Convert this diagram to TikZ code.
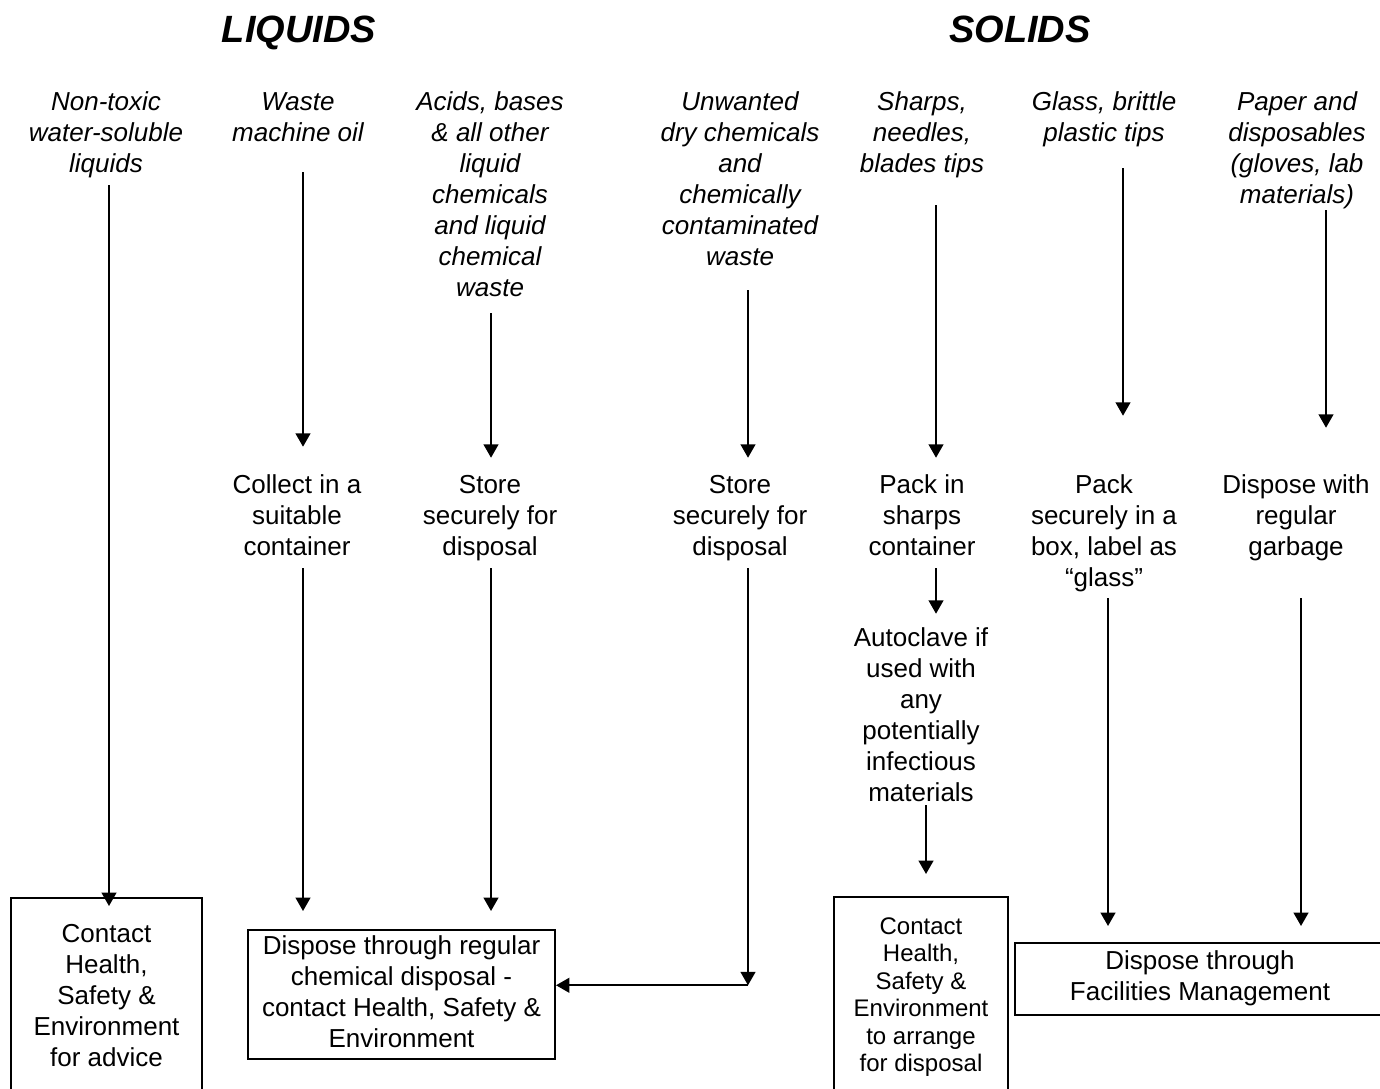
\documentclass[tikz,border=0pt]{standalone}
\usepackage{fontspec}
\setmainfont{Liberation Sans}
\usetikzlibrary{calc,arrows.meta}
\tikzset{
  tight/.style={inner sep=0pt, align=center},
  lab/.style={tight, font=\itshape\fontsize{19.5}{23.25}\selectfont},
  txt/.style={tight, font=\fontsize{19.5}{23.25}\selectfont},
  title/.style={inner sep=0pt, anchor=base, font=\bfseries\itshape\fontsize{28.5}{34}\selectfont},
  boxnode/.style={draw, line width=1.5pt, inner sep=0pt, align=center},
  arr/.style={line width=1.5pt, -{Triangle[length=10pt,width=11pt]}}
}
\begin{document}
\begin{tikzpicture}[x=0.75pt,y=-0.75pt]
\useasboundingbox (0,0) rectangle (1380,1088);
% titles
\node[title] (tl) at (299,43) {LIQUIDS};
\node[title] (ts) at (1020,43) {SOLIDS};
% top labels
\node[lab] (l1) at (106,135.1) {\strut Non-toxic\\water-soluble\\liquids\strut};
\node[lab] (l2) at (298,119.6) {\strut Waste\\machine oil\strut};
\node[lab] (l3) at (490,197.1) {\strut Acids, bases\\\& all other\\liquid\\chemicals\\and liquid\\chemical\\waste\strut};
\node[lab] (l4) at (740,181.6) {\strut Unwanted\\dry chemicals\\and\\chemically\\contaminated\\waste\strut};
\node[lab] (l5) at (922,135.1) {\strut Sharps,\\needles,\\blades tips\strut};
\node[lab] (l6) at (1104,119.6) {\strut Glass, brittle\\plastic tips\strut};
\node[lab] (l7) at (1297,150.6) {\strut Paper and\\disposables\\(gloves, lab\\materials)\strut};
% middle steps
\node[txt] (m1) at (297,518.1) {\strut Collect in a\\suitable\\container\strut};
\node[txt] (m2) at (490,518.1) {\strut Store\\securely for\\disposal\strut};
\node[txt] (m3) at (740,518.1) {\strut Store\\securely for\\disposal\strut};
\node[txt] (m4) at (922,518.1) {\strut Pack in\\sharps\\container\strut};
\node[txt] (m5) at (1104,533.6) {\strut Pack\\securely in a\\box, label as\\“glass”\strut};
\node[txt] (m6) at (1296,518.1) {\strut Dispose with\\regular\\garbage\strut};
\node[txt] (au) at (921,717.6) {\strut Autoclave if\\used with\\any\\potentially\\infectious\\materials\strut};
% boxes
\node[boxnode, font=\fontsize{19.5}{23.25}\selectfont, minimum width=143.25pt, minimum height=150pt] (bA) at (106.5,998)
  {\strut Contact\\Health,\\Safety \&\\Environment\\for advice\strut};
\node[boxnode, font=\fontsize{19.5}{23.25}\selectfont, minimum width=230.25pt, minimum height=96.75pt] (bB) at (401.5,994.5)
  {\strut Dispose through regular\\chemical disposal -\\contact Health, Safety \&\\Environment\strut};
\node[boxnode, font=\fontsize{18}{20.6}\selectfont, minimum width=130.5pt, minimum height=150.75pt] (bC) at (921,997.5)
  {\strut Contact\\Health,\\Safety \&\\Environment\\to arrange\\for disposal\strut};
\node[boxnode, font=\fontsize{19.5}{23.25}\selectfont, minimum width=277.5pt, minimum height=54pt] (bD) at (1200,979)
  {\strut Dispose through\\Facilities Management\strut};
% connectors
\draw[arr] ($(l1.south)+(3,3.4)$) -- ($(bA.north)+(2.5,9)$);
\draw[arr] ($(l2.south)+(5,21.4)$) -- ($(m1.north)+(6,-24.6)$);
\draw[arr] ($(l3.south)+(1,7.4)$) -- ($(m2.north)+(1,-13.6)$);
\draw[arr] ($(l4.south)+(8,15.4)$) -- ($(m3.north)+(8,-13.6)$);
\draw[arr] ($(l5.south)+(14,23.4)$) -- ($(m4.north)+(14,-13.6)$);
\draw[arr] ($(l6.south)+(19,17.4)$) -- ($(m5.north)+(19,-55.6)$);
\draw[arr] ($(l7.south)+(29,-2.6)$) -- ($(m6.north)+(30,-43.6)$);
\draw[arr] ($(m1.south)+(6,3.4)$) -- ($(bB.north)+(-98.5,-18)$);
\draw[arr] ($(m2.south)+(1,3.4)$) -- ($(bB.north)+(89.5,-18)$);
\coordinate (j) at ($(m3.south)+(8,420.4)$);
\draw[arr] ($(m3.south)+(8,3.4)$) -- (j);
\draw[arr] (j) -- (j -| bB.east);
\draw[arr] ($(m4.south)+(14,3.4)$) -- ($(au.north)+(15,-10.6)$);
\draw[arr] ($(au.south)+(5,-5.6)$) -- ($(bC.north)+(5,-22)$);
\draw[arr] ($(m5.south)+(4,2.4)$) -- ($(bD.north)+(-92,-16)$);
\draw[arr] ($(m6.south)+(5,33.4)$) -- ($(bD.north)+(101,-16)$);
\end{tikzpicture}
\end{document}
